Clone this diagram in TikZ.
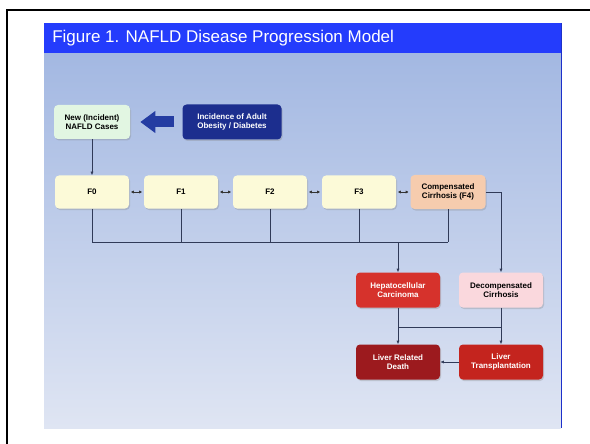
\documentclass[tikz,border=0pt]{standalone}
\usepackage{fontspec}
\setmainfont{Liberation Sans}
\usetikzlibrary{arrows.meta}
\usetikzlibrary{shadows}
\usetikzlibrary{calc}
\definecolor{titleblue}{RGB}{36, 60, 252}
\definecolor{panel1}{RGB}{163, 184, 226}
\definecolor{panel2}{RGB}{223, 229, 243}
\definecolor{green1}{RGB}{226, 246, 226}
\definecolor{navy1}{RGB}{28, 46, 142}
\definecolor{arrowblue}{RGB}{36, 60, 162}
\definecolor{cream1}{RGB}{252, 250, 216}
\definecolor{peach1}{RGB}{246, 204, 174}
\definecolor{red1}{RGB}{214, 50, 44}
\definecolor{pink1}{RGB}{250, 216, 221}
\definecolor{darkred1}{RGB}{156, 26, 30}
\definecolor{red2}{RGB}{196, 36, 30}
\definecolor{line1}{RGB}{48, 58, 88}

\begin{document}
\begin{tikzpicture}[x=1pt, y=-1pt, line width=0.6pt,
  box/.style={rectangle, rounded corners=4pt, minimum width=75pt, minimum height=34pt,
    inner sep=1pt, align=center, font=\fontsize{8}{9.5}\selectfont\bfseries,
    drop shadow={shadow xshift=1pt, shadow yshift=-1.5pt, opacity=0.3}},
  link/.style={draw=line1, line width=0.6pt},
  tip/.style={-{Latex[length=3.5pt,width=3pt]}},
  both/.style={{Latex[length=3pt,width=3.2pt]}-{Latex[length=3pt,width=3.2pt]}, line width=0.8pt, draw=black!80}]
  \useasboundingbox (0,0) rectangle (590,444);
  % frame and panel
  \draw[line width=1.5pt] (7,444) -- (7,10) -- (590,10);
  \shade[top color=panel1, bottom color=panel2] (44,53) rectangle (561,428);
  \fill[titleblue] (44,23) rectangle (561,53);
  \draw[titleblue!80!black, line width=0.8pt] (561,23) -- (561,428);
  \node[anchor=west, text=white, font=\fontsize{17}{19}\selectfont, inner sep=0pt] (title) at (52,38) {Figure 1. NAFLD Disease Progression Model};

  \node[box, fill=green1, minimum width=76pt] (new) at (92,122) {New (Incident)\\NAFLD Cases};
  \node[box, fill=navy1, text=white, minimum width=99pt, minimum height=35pt] (obese) at (232,122) {Incidence of Adult\\Obesity / Diabetes};
  \node[box, fill=cream1, minimum width=74pt, minimum height=33pt] (f0) at (92,192) {F0};
  \node[box, fill=cream1, minimum width=74pt, minimum height=33pt] (f1) at (181,192) {F1};
  \node[box, fill=cream1, minimum width=74pt, minimum height=33pt] (f2) at (270,192) {F2};
  \node[box, fill=cream1, minimum width=74pt, minimum height=33pt] (f3) at (359,192) {F3};
  \node[box, fill=peach1, minimum width=75pt] (f4) at (448,192) {Compensated\\Cirrhosis (F4)};
  \node[box, fill=red1, text=white, minimum width=84pt, minimum height=35pt] (hcc) at (398,290) {Hepatocellular\\Carcinoma};
  \node[box, fill=pink1, minimum width=84pt, minimum height=35pt] (dec) at (501,290) {Decompensated\\Cirrhosis};
  \node[box, fill=darkred1, text=white, minimum width=84pt, minimum height=35pt] (lrd) at (398,362) {Liver Related\\Death};
  \node[box, fill=red2, text=white, minimum width=84pt, minimum height=35pt] (lt) at (501,362) {Liver\\Transplantation};

  \coordinate (j1) at (0,242);
  \coordinate (j2) at (0,327);

  \draw[arrowblue, line width=11pt, -{Triangle[length=15pt,width=21pt]}] ([xshift=-8pt]obese.west) -- ([xshift=10pt]new.east);
  \draw[link, tip] (new) -- (f0);
  \foreach \from/\to in {f0/f1, f1/f2, f2/f3, f3/f4}
   \draw[both] ([xshift=1.5pt]\from.east) -- ([xshift=-1.5pt]\to.west);
  \foreach \n in {f0, f1, f2, f3, f4}
   \draw[link] (\n.south) -- (\n.south |- j1);
  \draw[link] (f0.south |- j1) -- (f4.south |- j1);
  \draw[link, tip] (hcc.north |- j1) -- (hcc);
  \draw[link, tip] (f4.east) -| (dec.north);
  \draw[link] (hcc.south) -- (hcc.south |- j2) -- (dec.south |- j2);
  \foreach \from/\to in {hcc.south |- j2/lrd, dec/lt, lt/lrd}
   \draw[link, tip] (\from) -- (\to);
\end{tikzpicture}
\end{document}
